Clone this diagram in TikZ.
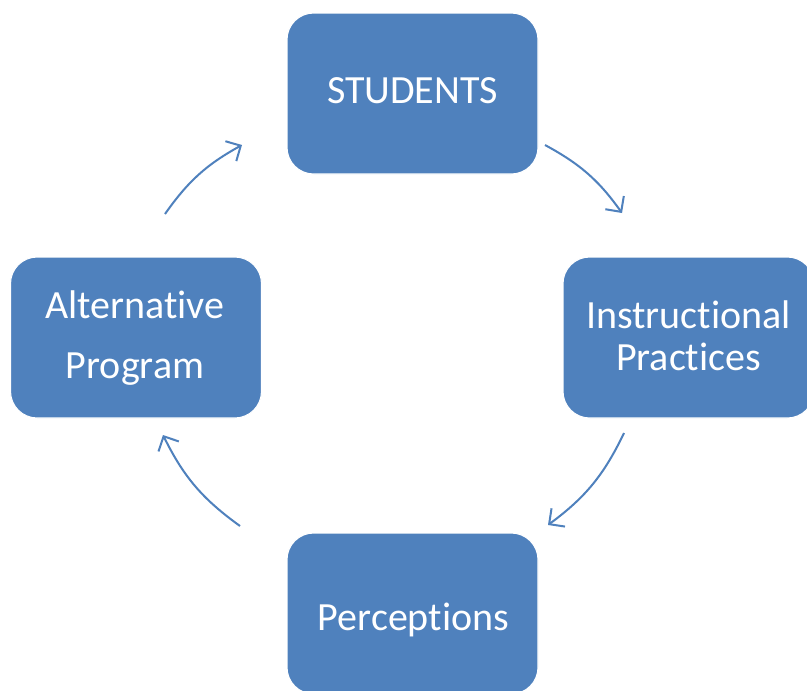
\documentclass[tikz,border=0pt]{standalone}
\usepackage{fontspec}
\setmainfont{Carlito}[Ligatures={NoCommon,NoRequired,NoContextual}]
\usetikzlibrary{arrows.meta}
\definecolor{boxblue}{HTML}{4F81BD}
\definecolor{arrowblue}{HTML}{4F81BD}
\begin{document}
\begin{tikzpicture}[x=0.75pt,y=-0.75pt,
  cyclebox/.style={draw=white, line width=0.8pt, fill=boxblue, rounded corners=20pt,
    minimum width=251*0.75pt, minimum height=161*0.75pt, inner sep=0pt},
  boxtext/.style={text=white, anchor=base, align=center, inner sep=0pt},
  cyclearrow/.style={draw=arrowblue, line width=1.5pt,
    -{Straight Barb[length=8.5pt,width=17pt,line width=1.5pt]}}]
  \useasboundingbox (0,0) rectangle (807,690);
  \clip (0,0) rectangle (807,690);
  \fill[white] (0,0) rectangle (807,690);

  % the four stages of the cycle
  \node[cyclebox] (stu) at (412.5,93.5) {};
  \node[cyclebox] (ins) at (688.5,337.5) {};
  \node[cyclebox] (per) at (412.5,613.5) {};
  \node[cyclebox] (alt) at (136,337.5) {};

  % labels, placed by the baseline of their last line
  \node[boxtext, font=\fontsize{30}{31.5}\selectfont] (stu-t) at (412.5,103.5) {STUDENTS};
  \node[boxtext, font=\fontsize{30}{31.5}\selectfont] (ins-t) at (688.5,370) {Instructional\\Practices};
  \node[boxtext, font=\fontsize{30}{31.5}\selectfont] (per-t) at (413.5,630) {Perceptions};
  \node[boxtext, font=\fontsize{30}{45}\selectfont] (alt-t) at (135,378) {Alternative\\Program};

  % arrow ends between the stages
  \coordinate (a1s) at (545,145);  \coordinate (a1e) at (622,213);
  \coordinate (a2s) at (624,433);  \coordinate (a2e) at (548,525);
  \coordinate (a3s) at (240,526);  \coordinate (a3e) at (163,435);
  \coordinate (a4s) at (165,214);  \coordinate (a4e) at (242,145);

  \draw[cyclearrow] (a1s) to[bend left=13] (a1e);
  \draw[cyclearrow] (a2s) to[bend left=14] (a2e);
  \draw[cyclearrow] (a3s) to[bend left=14] (a3e);
  \draw[cyclearrow] (a4s) to[bend left=13] (a4e);
\end{tikzpicture}
\end{document}
